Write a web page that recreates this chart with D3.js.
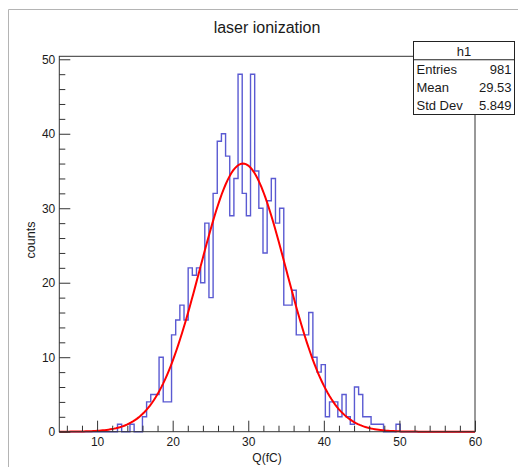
<!DOCTYPE html>
<html>
<head>
<meta charset="utf-8">
<script src="https://cdnjs.cloudflare.com/ajax/libs/d3/7.8.5/d3.min.js"></script>
<style>
  body { margin: 0; background: #fff; }
  svg text { font-family: "Liberation Sans", Arial, sans-serif; fill: #1a1a1a; }
</style>
</head>
<body>
<svg id="chart" width="518" height="467"></svg>
<script>

  // histogram h1: 100 bins from 5 to 60
  var xMin = 5, xMax = 60, nBins = 100;
  var counts = [
    0, 0, 0, 0, 0, 0, 0, 0, 0, 0,
    0, 0, 0, 0, 1, 0, 0, 1, 0, 0,
    2, 4, 5, 5, 10, 4, 4, 13, 15, 17,
    15, 22, 21, 22, 20, 28, 18, 32, 39, 40,
    37, 29, 34, 48, 32, 29, 48, 35, 30, 24,
    31, 34, 28, 30, 17, 17, 19, 13, 13, 13,
    16, 10, 8, 9, 2, 4, 4, 2, 5, 2,
    1, 6, 5, 2, 2, 1, 1, 1, 0, 0,
    0, 1, 0, 0, 0, 0, 0, 0, 0, 0,
    0, 0, 0, 0, 0, 0, 0, 0, 0, 0
  ];
  var yMax = 50.4;
  var xTicks = [10, 20, 30, 40, 50, 60];
  var yTicks = [0, 10, 20, 30, 40, 50];
  // gaus fit: constant, mean, sigma
  var fitPars = [36.0, 29.3, 5.7];
  var statLabels = ['Entries', 'Mean', 'Std Dev'];
  var statValues = ['981', '29.53', '5.849'];

  var svg = d3.select('#chart');
  var pLeft = 59.3, pRight = 475, pTop = 56.3, pBottom = 431.7;

  var x = d3.scaleLinear().domain([xMin, xMax]).range([pLeft, pRight]);
  var y = d3.scaleLinear().domain([0, yMax]).range([pBottom, pTop]);
  var binW = (xMax - xMin) / nBins;

  // canvas edge
  svg.append('path')
    .attr('d', 'M8.5,467V9.5H518')
    .attr('fill', 'none')
    .attr('stroke', '#b4b4b4');

  // title
  svg.append('text')
    .attr('x', 267).attr('y', 33)
    .attr('text-anchor', 'middle')
    .style('font-size', '16px')
    .text('laser ionization');

  // histogram outline
  var pts = [[xMin, 0]];
  counts.forEach(function (c, i) {
    pts.push([xMin + i * binW, c]);
    pts.push([xMin + (i + 1) * binW, c]);
  });
  pts.push([xMax, 0]);

  svg.append('path')
    .datum(pts)
    .attr('fill', 'none')
    .attr('stroke', '#5a5ad2')
    .attr('stroke-width', 1.4)
    .attr('d', d3.line().x(function (d) { return x(d[0]); }).y(function (d) { return y(d[1]); }));

  // fit curve
  var gaus = function (v) {
    var t = (v - fitPars[1]) / fitPars[2];
    return fitPars[0] * Math.exp(-0.5 * t * t);
  };
  svg.append('path')
    .datum(d3.range(xMin, xMax + 0.001, 0.25))
    .attr('fill', 'none')
    .attr('stroke', '#ff0000')
    .attr('stroke-width', 2)
    .attr('d', d3.line().x(function (d) { return x(d); }).y(function (d) { return y(gaus(d)); }));

  // axes, ticks pointing into the frame
  var xMinor = d3.range(6, 61, 2).filter(function (v) { return v % 10 !== 0; });
  var yMinor = d3.range(2, 50.4, 2).filter(function (v) { return v % 10 !== 0; });

  var gx = svg.append('g').attr('transform', 'translate(0,' + pBottom + ')');
  gx.call(d3.axisBottom(x).tickValues(xTicks).tickSize(-11).tickSizeOuter(0).tickPadding(6));
  gx.append('g').call(d3.axisBottom(x).tickValues(xMinor).tickSize(-6).tickSizeOuter(0).tickFormat(''));

  var gy = svg.append('g').attr('transform', 'translate(' + pLeft + ',0)');
  gy.call(d3.axisLeft(y).tickValues(yTicks).tickSize(-11).tickSizeOuter(0).tickPadding(4));
  gy.append('g').call(d3.axisLeft(y).tickValues(yMinor).tickSize(-6).tickSizeOuter(0).tickFormat(''));

  svg.selectAll('.domain').remove();
  svg.selectAll('.tick line').attr('stroke', '#333');
  svg.selectAll('.tick text').style('font-size', '12px').attr('fill', '#1a1a1a');

  // frame
  svg.append('rect')
    .attr('x', pLeft).attr('y', pTop)
    .attr('width', pRight - pLeft).attr('height', pBottom - pTop)
    .attr('fill', 'none')
    .attr('stroke', '#333');

  // axis titles
  svg.append('text')
    .attr('x', 267).attr('y', 462)
    .attr('text-anchor', 'middle')
    .style('font-size', '12px')
    .text('Q(fC)');

  svg.append('text')
    .attr('transform', 'translate(35,240) rotate(-90)')
    .attr('text-anchor', 'middle')
    .style('font-size', '12.5px')
    .text('counts');

  // stats box
  var bx = 413.5, by = 41.5, bw = 101, bh = 73;
  var rowH = bh / 4;
  var stats = svg.append('g');
  stats.append('rect')
    .attr('x', bx).attr('y', by).attr('width', bw).attr('height', bh)
    .attr('fill', '#fff').attr('stroke', '#222');
  stats.append('line')
    .attr('x1', bx).attr('x2', bx + bw)
    .attr('y1', by + rowH).attr('y2', by + rowH)
    .attr('stroke', '#222');
  stats.append('text')
    .attr('x', bx + bw / 2).attr('y', by + rowH / 2 + 5)
    .attr('text-anchor', 'middle')
    .style('font-size', '13px')
    .text('h1');
  statLabels.forEach(function (s, i) {
    var cy = by + rowH * (i + 1.5) + 5;
    stats.append('text').attr('x', bx + 3).attr('y', cy).style('font-size', '13px').text(s);
    stats.append('text').attr('x', bx + bw - 3).attr('y', cy)
      .attr('text-anchor', 'end').style('font-size', '13px').text(statValues[i]);
  });

</script>
</body>
</html>
